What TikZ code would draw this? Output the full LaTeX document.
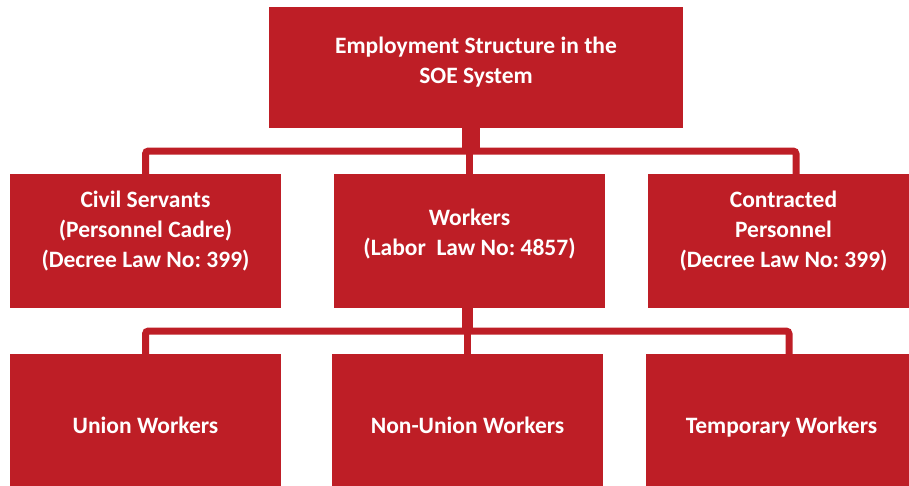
\documentclass[tikz,border=0pt]{standalone}
\usepackage{fontspec}
\setmainfont{Carlito}
\usepackage{xcolor}
\usetikzlibrary{positioning}
\definecolor{soered}{RGB}{190,30,38}
\frenchspacing

\begin{document}
\begin{tikzpicture}[
    x=1pt, y=-1pt,
    orgbox/.style={rectangle, fill=soered, inner sep=0pt,
                   minimum width=271pt, minimum height=134pt},
    orgtext/.style={text=white, align=center,
                    font=\fontsize{23.5}{30}\selectfont\bfseries},
    link/.style={draw=soered, line width=7pt, rounded corners=3pt},
    stem/.style={draw=soered}
  ]
  \useasboundingbox (0,0) rectangle (909,485);
  % Boxes — manually placed
  \node[orgbox, minimum width=414pt, minimum height=121pt] (soe) at (476,67.5) {};
  \node[orgbox] (civil)      at (145.5,241) {};
  \node[orgbox] (workers)    at (469.5,241) {};
  \node[orgbox] (contracted) at (783.5,241) {};
  \node[orgbox, minimum height=142pt] (union)     at (145.5,425) {};
  \node[orgbox, minimum height=142pt] (nonunion)  at (467.5,425) {};
  \node[orgbox, minimum height=142pt] (temporary) at (781.5,425) {};
  % Texts
  \node[orgtext] (soetxt) at ([yshift=5pt]soe.center)
    {Employment Structure in the\\SOE System};
  \node[orgtext] (civiltxt) at ([yshift=10pt]civil.center)
    {Civil Servants\\(Personnel Cadre)\\(Decree Law No: 399)};
  \node[orgtext] (workerstxt) at ([yshift=7pt]workers.center)
    {Workers\\(Labor~ Law No: 4857)};
  \node[orgtext] (contractedtxt) at ([yshift=10pt]contracted.center)
    {Contracted\\Personnel\\(Decree Law No: 399)};
  \node[orgtext, anchor=base] (uniontxt)     at ([yshift=-8pt]union.center)     {Union Workers};
  \node[orgtext, anchor=base] (nonuniontxt)  at ([yshift=-8pt]nonunion.center)  {Non-Union Workers};
  \node[orgtext, anchor=base] (temporarytxt) at ([yshift=-8pt]temporary.center) {Temporary Workers};
  % Junctions
  \coordinate (j1) at (471,151);
  \coordinate (j2) at (467.5,331);
  \coordinate (c3) at ([xshift=12.5pt]contracted.north);
  \coordinate (t3) at ([xshift=7.5pt]temporary.north);
  % Edges
  \draw[stem, line width=18pt] (j1 |- soe.south) -- (j1);
  \draw[link] (civil.north) |- (c3 |- j1) -- (c3);
  \draw[link] (workers.north) -- (workers.north |- j1);
  \draw[stem, line width=11pt] (j2 |- workers.south) -- (j2);
  \draw[link] (union.north) |- (t3 |- j2) -- (t3);
  \draw[link] (nonunion.north) -- (nonunion.north |- j2);
\end{tikzpicture}
\end{document}
